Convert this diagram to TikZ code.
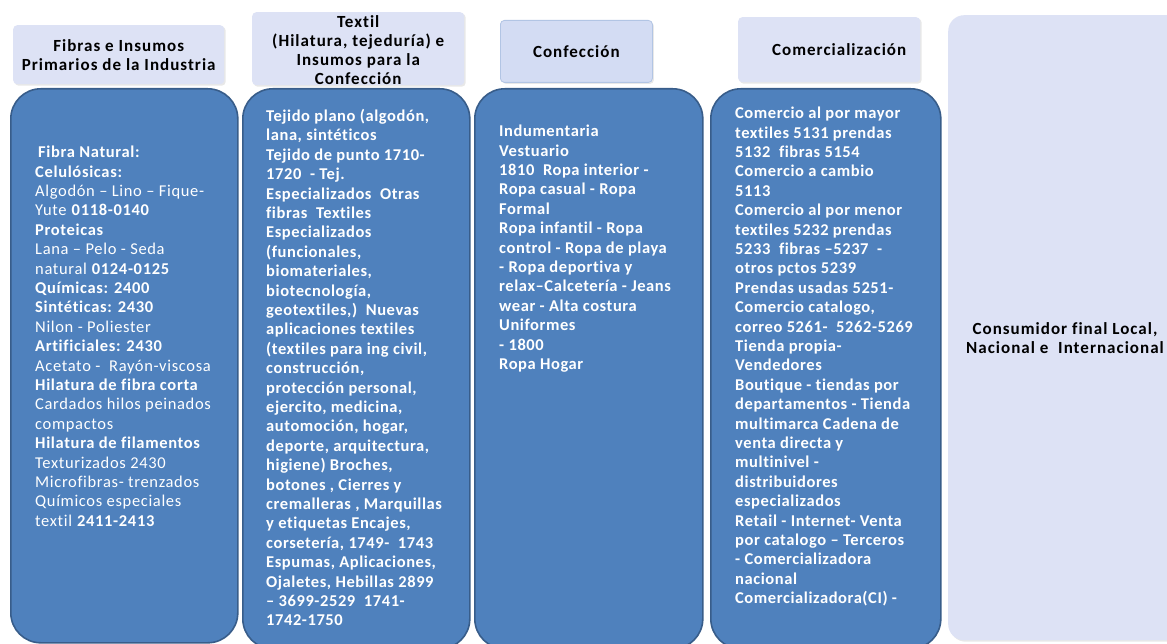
\documentclass[tikz,border=0pt]{standalone}
\usepackage{fontspec}
\setmainfont{Carlito}
\newfontfamily\colfont[LetterSpace=4.0, Ligatures=NoCommon]{Carlito}
\newfontfamily\boldcolfont[LetterSpace=3.5, Ligatures=NoCommon]{Carlito}
\newfontfamily\headfont[LetterSpace=6.0, Ligatures=NoCommon]{Carlito}
\usetikzlibrary{shadows}
\definecolor{boxblue}{HTML}{4F81BD}
\definecolor{boxedge}{HTML}{385D8A}
\definecolor{headfill}{HTML}{DDE2F5}
\definecolor{headfillb}{HTML}{D3DCF3}
\begin{document}
\begin{tikzpicture}[x=1pt, y=-1pt]
        \tikzstyle{bluebox}=[fill=boxblue, draw=boxedge, line width=1.6pt, rounded corners=30pt, anchor=north west, inner sep=0pt]
        \tikzstyle{headbox}=[fill=headfill, rounded corners=4pt, anchor=north west, inner sep=0pt, drop shadow={opacity=0.18, shadow xshift=1.5pt, shadow yshift=-1.5pt}]
        \tikzstyle{headtext}=[font=\headfont\fontsize{17}{19}\selectfont\bfseries, align=center, inner sep=0pt, text=black]
        \tikzstyle{coltext}=[font=\colfont\fontsize{16.5}{19.4}\selectfont, align=left, anchor=north west, inner sep=0pt, text=white]
        \tikzstyle{boldtext}=[coltext, font=\boldcolfont\fontsize{16.5}{19.4}\selectfont\bfseries]

        \useasboundingbox (0,0) rectangle (1167,644);
        \fill[white] (0,0) rectangle (1167,644);

% column headers
        \node[headbox, minimum width=211pt, minimum height=59pt] (hfibras) at (13,25) {};
        \node[headbox, minimum width=212pt, minimum height=73pt] (htextil) at (252,12) {};
        \node[headbox, fill=headfillb, draw=headfill!70!boxblue, line width=0.8pt, minimum width=152pt, minimum height=62pt] (hconf) at (500,20) {};
        \node[headbox, minimum width=182pt, minimum height=65pt] (hcom) at (738,17) {};

        \node[headtext] (tfibras) at (hfibras.center) {Fibras e Insumos\\Primarios de la Industria};
        \node[headtext] (ttextil) at ([yshift=-1pt]htextil.center) {Textil\\(Hilatura, tejeduría) e\\Insumos para la\\Confección};
        \node[headtext] (tconf) at (hconf.center) {Confección};
        \node[headtext] (tcom) at ([xshift=10pt]hcom.center) {Comercialización};

% final consumer
        \node[headbox, rounded corners=16pt, minimum width=240pt, minimum height=625pt] (consumidor) at (948,15) {};
        \node[headtext] (tconsumidor) at (1065,338) {Consumidor final Local,\\Nacional e \ Internacional};

% blue columns
        \node[bluebox, minimum width=227pt, minimum height=554pt] (fibras) at (10,88) {};
        \node[bluebox, minimum width=227pt, minimum height=560pt] (textil) at (242,88) {};
        \node[bluebox, minimum width=228pt, minimum height=560pt] (conf) at (474,88) {};
        \node[bluebox, minimum width=230pt, minimum height=560pt] (com) at (710,88) {};

        \node[coltext] (fibrastxt) at (35,146) {\hspace{3pt}\textbf{Fibra Natural:}\\
\textbf{Celulósicas:}\\
Algodón – Lino – Fique-\\
Yute \textbf{0118-0140}\\
\textbf{Proteicas}\\
Lana – Pelo - Seda\\
natural \textbf{0124-0125}\\
\textbf{Químicas: 2400}\\
\textbf{Sintéticas: 2430}\\
Nilon - Poliester\\
\textbf{Artificiales: 2430}\\
Acetato - \ Rayón-viscosa\\
\textbf{Hilatura de fibra corta}\\
Cardados hilos peinados\\
compactos\\
\textbf{Hilatura de filamentos}\\
Texturizados 2430\\
Microfibras- trenzados\\
Químicos especiales\\
textil \textbf{2411-2413}};

        \node[boldtext] (textiltxt) at (266,109) {Tejido plano (algodón,\\
lana, sintéticos\\
Tejido de punto 1710-\\
1720 \ - Tej.\\
Especializados \ Otras\\
fibras \ Textiles\\
Especializados\\
(funcionales,\\
biomateriales,\\
biotecnología,\\
geotextiles,) \ Nuevas\\
aplicaciones textiles\\
(textiles para ing civil,\\
construcción,\\
protección personal,\\
ejercito, medicina,\\
automoción, hogar,\\
deporte, arquitectura,\\
higiene) Broches,\\
botones , Cierres y\\
cremalleras , Marquillas\\
y etiquetas Encajes,\\
corsetería, 1749- \ 1743\\
Espumas, Aplicaciones,\\
Ojaletes, Hebillas 2899\\
– 3699-2529 \ 1741-\\
1742-1750};

        \node[boldtext] (conftxt) at (499,125) {Indumentaria\\
Vestuario\\
1810 \ Ropa interior -\\
Ropa casual - Ropa\\
Formal\\
Ropa infantil - Ropa\\
control - Ropa de playa\\
- Ropa deportiva y\\
relax–Calcetería - Jeans\\
wear - Alta costura\\
Uniformes\\
- 1800\\
Ropa Hogar};

        \node[boldtext] (comtxt) at (735,107) {Comercio al por mayor\\
textiles 5131 prendas\\
5132 \ fibras 5154\\
Comercio a cambio\\
5113\\
Comercio al por menor\\
textiles 5232 prendas\\
5233 \ fibras –5237 \ -\\
otros pctos 5239\\
Prendas usadas 5251-\\
Comercio catalogo,\\
correo 5261- \ 5262-5269\\
Tienda propia-\\
Vendedores\\
Boutique - tiendas por\\
departamentos - Tienda\\
multimarca Cadena de\\
venta directa y\\
multinivel -\\
distribuidores\\
especializados\\
Retail - Internet- Venta\\
por catalogo – Terceros\\
- Comercializadora\\
nacional\\
Comercializadora(CI) -};

    \end{tikzpicture}
\end{document}
